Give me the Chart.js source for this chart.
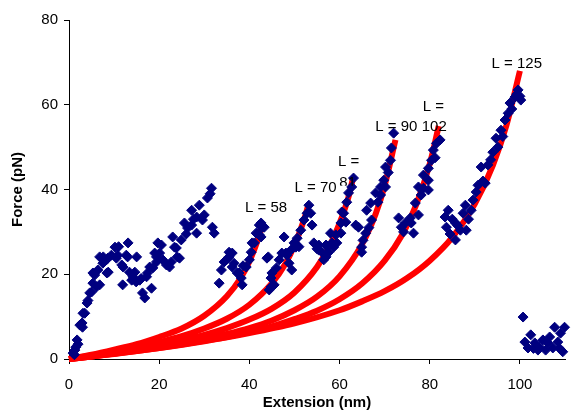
<!DOCTYPE html>
<html>
<head>
<meta charset="utf-8">
<script src="https://cdn.jsdelivr.net/npm/chart.js@4.4.1/dist/chart.umd.min.js"></script>
<style>
  body { margin: 0; background: #fff; }
</style>
</head>
<body>
<canvas id="forceChart" width="571" height="412"></canvas>
<script>
// measured trace, [extension nm, force pN]
const trace = [
  [0.9,1.4],[1.2,1.0],[1.3,2.1],[1.5,2.8],[1.8,4.5],[2.0,3.5],[2.4,8.0],[2.9,8.5],[3.1,10.8],[3.0,7.5],
  [3.5,10.8],[4.0,13.2],[4.2,13.8],[4.6,15.6],[5.0,15.8],[5.3,17.9],[5.3,20.3],[5.7,19.8],[6.1,17.0],[6.4,21.0],
  [6.8,17.5],[6.8,24.1],[7.5,22.6],[7.6,24.1],[8.3,23.4],[8.4,20.3],[8.6,23.8],[8.7,20.5],[9.4,24.5],[10.2,26.4],
  [10.5,23.8],[10.8,24.5],[11.0,26.5],[11.7,22.2],[11.9,17.5],[12.0,21.7],[12.7,24.5],[13.0,24.1],[13.1,27.4],[13.4,20.5],
  [13.9,18.6],[14.2,19.4],[14.6,20.5],[14.9,18.2],[15.0,24.1],[15.7,18.6],[16.0,19.0],[16.3,15.6],[16.8,14.4],[17.2,19.4],
  [17.4,20.3],[17.9,21.7],[18.3,16.7],[18.6,21.5],[19.0,25.0],[19.4,22.9],[19.4,24.1],[19.7,27.4],[20.1,25.0],[20.5,26.9],
  [20.8,23.4],[21.6,22.2],[21.9,22.2],[22.3,21.7],[22.7,22.9],[23.0,28.8],[23.4,26.4],[23.8,26.2],[24.0,24.1],[24.5,23.8],
  [24.9,28.1],[25.6,32.1],[26.0,29.5],[26.3,30.9],[27.2,31.6],[27.2,35.1],[27.6,33.0],[28.3,33.5],[28.3,29.7],[28.9,36.3],
  [29.6,32.8],[30.0,34.0],[30.7,38.0],[31.3,39.0],[31.6,40.3],[31.8,31.1],[32.2,29.7],
  [33.3,17.9],[33.8,21.0],[34.4,22.9],[34.9,23.4],[35.5,24.1],[35.5,25.2],[36.2,25.0],[36.6,22.6],[36.2,21.7],[37.3,20.3],
  [37.7,20.3],[38.2,19.1],[38.4,17.5],[38.6,22.0],[39.3,21.7],[40.0,23.4],[40.4,25.2],[40.6,27.4],[41.1,27.4],[41.5,29.7],
  [42.2,29.3],[42.2,31.6],[42.6,32.1],[42.8,31.1],[43.3,31.1],[42.6,28.8],[43.9,23.8],[44.2,24.1],
  [44.4,16.3],[44.8,17.0],[44.8,19.1],[45.0,20.3],[45.5,17.5],[46.0,21.5],[46.6,23.4],[47.2,25.0],[47.7,28.8],[48.1,25.0],
  [48.3,24.5],[48.8,22.6],[49.2,25.7],[49.4,21.0],[49.9,27.4],[50.3,26.4],[50.6,28.5],[51.0,26.5],[51.4,30.4],[52.1,32.8],
  [52.8,34.4],[53.2,36.3],[53.6,34.4],[53.9,31.6],[54.3,27.4],
  [55.0,26.0],[55.4,26.9],[55.4,25.7],[56.1,25.2],[56.5,23.4],[57.0,24.1],[57.0,26.9],[57.6,25.2],[58.0,29.7],[58.3,27.4],
  [58.7,26.4],[59.2,29.3],[59.4,27.4],[60.3,32.1],[60.3,29.7],[60.5,34.7],[60.9,34.4],[61.4,32.3],[61.6,37.0],[62.0,39.2],
  [62.7,40.6],[63.1,42.7],
  [63.6,31.6],[64.2,31.1],[64.9,25.2],[64.9,26.4],[65.2,28.0],[65.8,29.7],[66.0,35.1],[66.5,31.0],[66.9,36.8],[67.1,32.8],
  [68.0,39.2],[68.5,37.0],[69.1,40.6],[69.1,38.7],[69.8,42.2],[70.2,45.3],[70.2,40.6],[70.8,44.0],[71.3,46.9],[71.5,49.8],
  [72.0,53.3],
  [73.1,33.3],[73.7,31.1],[74.2,30.0],[74.6,32.1],[75.9,32.1],[76.4,29.7],[75.7,33.3],[76.8,36.8],[77.5,34.0],[77.5,40.6],
  [78.1,38.7],[78.6,40.3],[78.6,43.4],[79.7,39.9],[79.7,42.2],[79.7,45.0],[80.4,46.9],[80.8,49.3],[81.2,47.5],[81.5,50.9],
  [82.3,51.7],
  [83.4,33.5],[83.7,31.1],[84.1,35.1],[84.5,29.5],[85.0,33.0],[85.7,32.1],[85.7,28.1],[86.2,31.5],[86.8,30.4],[87.4,34.4],
  [87.9,36.3],[88.1,30.4],[88.6,33.0],[89.2,35.1],[89.6,37.5],[90.3,39.4],[90.7,41.0],[91.4,45.3],[91.8,42.0],[92.3,41.5],
  [92.9,45.8],[93.5,47.0],[94.0,48.8],[94.7,52.1],[95.1,50.0],[95.8,54.0],[96.2,52.5],[96.7,56.4],[97.4,58.0],[97.8,60.4],
  [98.2,59.0],[98.9,61.8],[99.3,62.5],[99.6,63.5],[100.2,61.1],[100.0,62.0],
  [100.7,9.9],[101.1,4.0],[101.8,2.6],[102.4,5.7],[103.0,2.5],[103.3,3.8],[104.0,2.1],[104.4,2.8],[105.1,4.5],[105.7,2.1],
  [106.2,3.8],[106.6,5.2],[107.3,2.6],[107.7,7.5],[108.4,4.0],[108.8,2.5],[109.0,6.1],[109.5,1.7],[109.9,7.5]
];

// fitted curves, [extension nm, force pN]
const fit58 = [[0,0],[5,1.0],[10,2.2],[15,3.5],[20,5.2],[25,7.2],[30,10.2],[35,14.8],[38,19],[40,23],[42,28.5],[43,32]];
const fit70 = [[0,0],[5,0.85],[10,1.8],[15,2.8],[20,4.0],[25,5.4],[30,7.2],[35,9.5],[40,12.8],[45,17.9],[48,22.5],[50,26.8],[52,32.5],[53,36]];
const fit81 = [[0,0],[5,0.7],[10,1.5],[15,2.4],[20,3.3],[25,4.4],[30,5.7],[35,7.3],[40,9.3],[45,11.9],[50,15.7],[55,21.7],[58,27.1],[60,32],[62,38.3],[63,42.7]];
const fit90 = [[0,0],[5,0.6],[10,1.3],[15,2.0],[20,2.8],[25,3.7],[30,4.7],[35,5.9],[40,7.3],[45,9.1],[50,11.5],[55,14.7],[60,19.5],[65,27.1],[68,34.2],[70,40.9],[72.4,51.7]];
const fit102 = [[0,0],[5,0.6],[10,1.2],[15,1.9],[20,2.6],[25,3.4],[30,4.3],[35,5.2],[40,6.4],[45,7.7],[50,9.4],[55,11.4],[60,14.1],[65,17.8],[70,23.2],[74,29.5],[77,36.4],[80,46],[82,55]];
const fit125 = [[0,0],[5,0.6],[10,1.25],[15,1.9],[20,2.6],[30,4.2],[40,6.1],[50,8.4],[60,11.5],[65,13.6],[70,16.0],[75,19.1],[80,23.2],[85,28.7],[90,36.6],[94,45.7],[97,55.1],[100,68]];

// "81" is partly hidden under the "L = 70" label in the original
const fitLabels = [
  { text: 'L = 58', x: 43.7, y: 35.6 },
  { text: 'L = 70', x: 54.7, y: 40.3 },
  { text: 'L =', x: 62.0, y: 46.5 },
  { text: '81', x: 61.8, y: 41.6, cut: 3 },
  { text: 'L = 90', x: 72.6, y: 54.7 },
  { text: 'L =', x: 80.8, y: 59.4 },
  { text: '102', x: 81.0, y: 54.7 },
  { text: 'L = 125', x: 99.3, y: 69.6 }
];

const xTicks = [0, 20, 40, 60, 80, 100];
const yTicks = [0, 20, 40, 60, 80];

const toXY = arr => arr.map(p => ({ x: p[0], y: p[1] }));

function fitSet(arr) {
  return {
    data: toXY(arr),
    showLine: true,
    borderColor: '#ff0000',
    backgroundColor: '#ff0000',
    borderWidth: 6,
    pointRadius: 0,
    cubicInterpolationMode: 'monotone',
    clip: false,
    order: 1
  };
}

const labelPlugin = {
  id: 'fitLabels',
  afterDatasetsDraw(chart) {
    const ctx = chart.ctx;
    const xs = chart.scales.x, ys = chart.scales.y;
    ctx.save();
    ctx.font = '15px Arial, "Liberation Sans", sans-serif';
    ctx.textAlign = 'center';
    ctx.textBaseline = 'middle';
    ctx.fillStyle = '#000';
    fitLabels.forEach(l => {
      const px = xs.getPixelForValue(l.x);
      const py = ys.getPixelForValue(l.y);
      ctx.save();
      if (l.cut !== undefined) {
        ctx.beginPath();
        ctx.rect(0, 0, chart.width, py + l.cut);
        ctx.clip();
      }
      ctx.fillText(l.text, px, py);
      ctx.restore();
    });
    ctx.restore();
  }
};

const tickFont = { family: 'Arial, "Liberation Sans", sans-serif', size: 15 };
const titleFont = { family: 'Arial, "Liberation Sans", sans-serif', size: 15, weight: 'bold' };

new Chart(document.getElementById('forceChart'), {
  type: 'scatter',
  data: {
    datasets: [
      {
        data: toXY(trace),
        pointStyle: 'rectRot',
        pointRadius: 5,
        borderWidth: 1,
        borderColor: '#000080',
        backgroundColor: '#000080',
        clip: false,
        order: 0
      },
      fitSet(fit58), fitSet(fit70), fitSet(fit81),
      fitSet(fit90), fitSet(fit102), fitSet(fit125)
    ]
  },
  options: {
    responsive: false,
    animation: false,
    layout: { padding: { top: 20, right: 3, left: 0, bottom: 0 } },
    plugins: { legend: { display: false }, tooltip: { enabled: false } },
    scales: {
      x: {
        type: 'linear',
        min: 0,
        max: 110,
        afterFit: s => { s.height = 53; },
        afterBuildTicks: s => { s.ticks = xTicks.map(v => ({ value: v })); },
        ticks: { font: tickFont, color: '#000', padding: 12, maxRotation: 0 },
        grid: { drawOnChartArea: false, color: '#000', tickLength: 5 },
        border: { color: '#000', width: 1 },
        title: { display: true, text: 'Extension (nm)', font: titleFont, color: '#000', padding: { top: 0, bottom: 0 } }
      },
      y: {
        min: 0,
        max: 80,
        afterFit: s => { s.width = 69; },
        afterBuildTicks: s => { s.ticks = yTicks.map(v => ({ value: v })); },
        ticks: { font: tickFont, color: '#000', padding: 6 },
        grid: { drawOnChartArea: false, color: '#000', tickLength: 5 },
        border: { color: '#000', width: 1 },
        title: { display: true, text: 'Force (pN)', font: titleFont, color: '#000', padding: { top: 9, bottom: 0 } }
      }
    }
  },
  plugins: [labelPlugin]
});
</script>
</body>
</html>
